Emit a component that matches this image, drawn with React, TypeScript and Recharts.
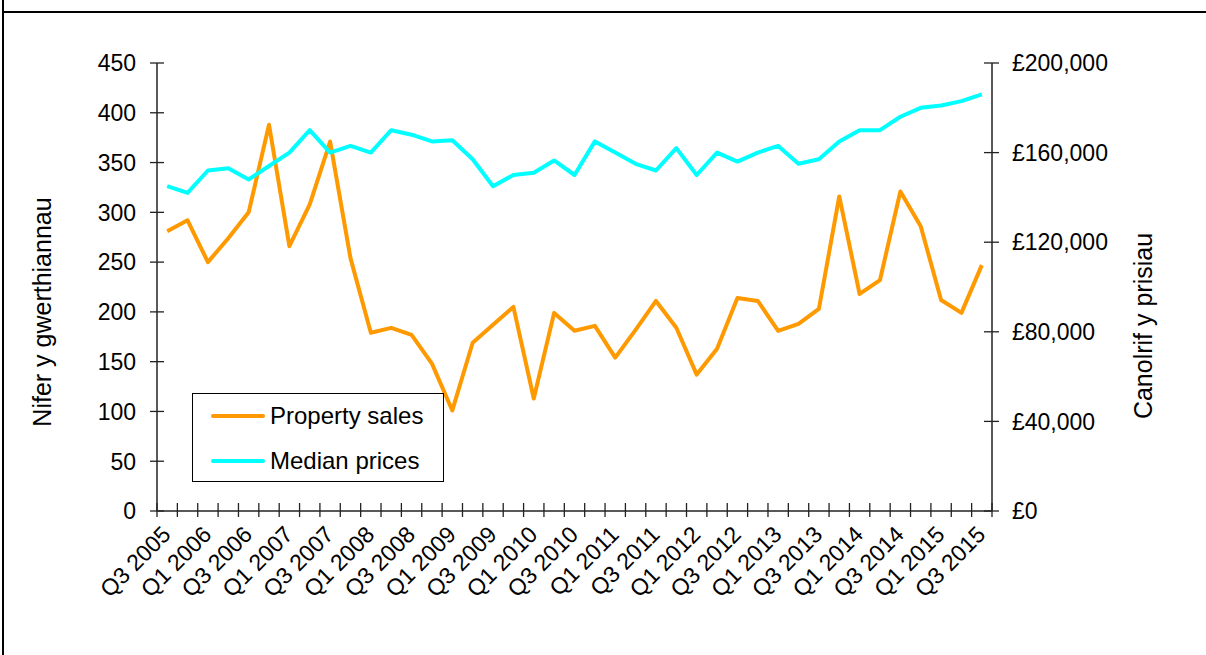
import React from 'react';
import { LineChart, Line, XAxis, YAxis, Legend } from 'recharts';

const quarters = [
  'Q3 2005', 'Q4 2005', 'Q1 2006', 'Q2 2006', 'Q3 2006', 'Q4 2006', 'Q1 2007', 'Q2 2007',
  'Q3 2007', 'Q4 2007', 'Q1 2008', 'Q2 2008', 'Q3 2008', 'Q4 2008', 'Q1 2009', 'Q2 2009',
  'Q3 2009', 'Q4 2009', 'Q1 2010', 'Q2 2010', 'Q3 2010', 'Q4 2010', 'Q1 2011', 'Q2 2011',
  'Q3 2011', 'Q4 2011', 'Q1 2012', 'Q2 2012', 'Q3 2012', 'Q4 2012', 'Q1 2013', 'Q2 2013',
  'Q3 2013', 'Q4 2013', 'Q1 2014', 'Q2 2014', 'Q3 2014', 'Q4 2014', 'Q1 2015', 'Q2 2015',
  'Q3 2015',
];

// number of property sales (left axis)
const salesCounts = [
  281, 292, 250, 274, 300, 388, 266, 308, 371, 254, 179, 184, 177, 148, 101, 169,
  187, 205, 113, 199, 181, 186, 154, 182, 211, 184, 137, 163, 214, 211, 181, 188,
  203, 316, 218, 232, 321, 286, 212, 199, 247,
];

// median price in £ (right axis)
const medianPrices = [
  145000, 142000, 152000, 153000, 148000, 154000, 160000, 170000, 160000, 163000,
  160000, 170000, 168000, 165000, 165500, 157000, 145000, 150000, 151000, 156500,
  150000, 165000, 160000, 155000, 152000, 162000, 150000, 160000, 156000, 160000,
  163000, 155000, 157000, 165000, 170000, 170000, 176000, 180000, 181000, 183000,
  186000,
];

const leftTicks = [0, 50, 100, 150, 200, 250, 300, 350, 400, 450];
const rightTicks = [0, 40000, 80000, 120000, 160000, 200000];

const data = quarters.map((q, i) => ({
  quarter: q,
  sales: salesCounts[i],
  price: medianPrices[i],
}));

const W = 1206;
const H = 655;
const LEFT_W = 157;
const RIGHT_W = 214;
const TOP = 63;
const X_H = 144;
const bw = (W - LEFT_W - RIGHT_W) / quarters.length;

const FONT = '"Liberation Sans", Arial, sans-serif';
const AXIS = '#222';

const fmtPounds = (v: number) => '£' + v.toLocaleString('en-GB');

const XTick = (props: any) => {
  const { x, y, payload, index } = props;
  const lx = x + 5;
  const ly = y + 25;
  return (
    <g>
      <line x1={x - bw / 2} x2={x - bw / 2} y1={y - 8} y2={y + 6} stroke={AXIS} strokeWidth={1.3} />
      {index === quarters.length - 1 && (
        <line x1={x + bw / 2} x2={x + bw / 2} y1={y - 8} y2={y + 6} stroke={AXIS} strokeWidth={1.3} />
      )}
      {index % 2 === 0 && (
        <text
          x={lx}
          y={ly}
          textAnchor="end"
          transform={`rotate(-45, ${lx}, ${ly})`}
          fontSize={23}
          fontFamily={FONT}
          fill="#000"
        >
          {payload.value}
        </text>
      )}
    </g>
  );
};

const LeftTick = (props: any) => {
  const { x, y, payload } = props;
  return (
    <g>
      <line x1={x - 7} x2={x + 7} y1={y} y2={y} stroke={AXIS} strokeWidth={1.3} />
      <text x={x - 21} y={y} dy="0.36em" textAnchor="end" fontSize={23} fontFamily={FONT} fill="#000">
        {payload.value}
      </text>
    </g>
  );
};

const RightTick = (props: any) => {
  const { x, y, payload } = props;
  return (
    <g>
      <line x1={x - 8} x2={x + 7} y1={y} y2={y} stroke={AXIS} strokeWidth={1.3} />
      <text x={x + 20} y={y} dy="0.36em" textAnchor="start" fontSize={23} fontFamily={FONT} fill="#000">
        {fmtPounds(payload.value)}
      </text>
    </g>
  );
};

const renderLegend = () => (
  <div
    style={{
      position: 'relative',
      width: '100%',
      height: '100%',
      boxSizing: 'border-box',
      border: '1px solid #000',
      background: '#fff',
      fontFamily: FONT,
      fontSize: 24,
      color: '#000',
    }}
  >
    {[
      { name: 'Property sales', color: '#FF9900', top: 22 },
      { name: 'Median prices', color: '#00FFFF', top: 67 },
    ].map((item) => (
      <div key={item.name} style={{ position: 'absolute', left: 18, top: item.top - 14, height: 28, display: 'flex', alignItems: 'center' }}>
        <div style={{ width: 54, height: 4, background: item.color, borderRadius: 2 }} />
        <span style={{ marginLeft: 5, lineHeight: '28px', whiteSpace: 'nowrap' }}>{item.name}</span>
      </div>
    ))}
  </div>
);

const titleStyle = (cx: number, cy: number): React.CSSProperties => ({
  position: 'absolute',
  left: cx,
  top: cy,
  transform: 'translate(-50%, -50%) rotate(-90deg)',
  whiteSpace: 'nowrap',
  fontFamily: FONT,
  fontSize: 25,
  lineHeight: 1,
  color: '#000',
});

export default function App() {
  return (
    <div style={{ position: 'absolute', left: 0, top: 0, width: W, height: H, background: '#fff', overflow: 'hidden' }}>
      <div style={{ position: 'absolute', left: 2, top: 0, width: 2, height: H, background: '#000' }} />
      <div style={{ position: 'absolute', left: 2, top: 11, width: W - 2, height: 2, background: '#000' }} />
      <LineChart width={W} height={H} data={data} margin={{ top: TOP, right: 0, bottom: 0, left: 0 }}>
        <XAxis
          dataKey="quarter"
          interval={0}
          height={X_H}
          tickSize={0}
          tickMargin={0}
          tickLine={false}
          axisLine={{ stroke: AXIS, strokeWidth: 1.5 }}
          padding={{ left: bw / 2, right: bw / 2 }}
          tick={XTick}
        />
        <YAxis
          yAxisId="left"
          domain={[0, 450]}
          ticks={leftTicks}
          width={LEFT_W}
          tickSize={0}
          tickMargin={0}
          tickLine={false}
          axisLine={{ stroke: AXIS, strokeWidth: 1.5 }}
          tick={LeftTick}
        />
        <YAxis
          yAxisId="right"
          orientation="right"
          domain={[0, 200000]}
          ticks={rightTicks}
          width={RIGHT_W}
          tickSize={0}
          tickMargin={0}
          tickLine={false}
          axisLine={{ stroke: AXIS, strokeWidth: 1.5 }}
          tick={RightTick}
        />
        <Legend
          content={renderLegend}
          layout="horizontal"
          verticalAlign="middle"
          align="center"
          wrapperStyle={{ left: 192, top: 393, width: 252, height: 89 }}
        />
        <Line
          yAxisId="left"
          dataKey="sales"
          name="Property sales"
          stroke="#FF9900"
          strokeWidth={4}
          strokeLinejoin="round"
          dot={false}
          isAnimationActive={false}
        />
        <Line
          yAxisId="right"
          dataKey="price"
          name="Median prices"
          stroke="#00FFFF"
          strokeWidth={4}
          strokeLinejoin="round"
          dot={false}
          isAnimationActive={false}
        />
      </LineChart>
      <div style={titleStyle(42, 312)}>Nifer y gwerthiannau</div>
      <div style={titleStyle(1143, 326)}>Canolrif y prisiau</div>
    </div>
  );
}
